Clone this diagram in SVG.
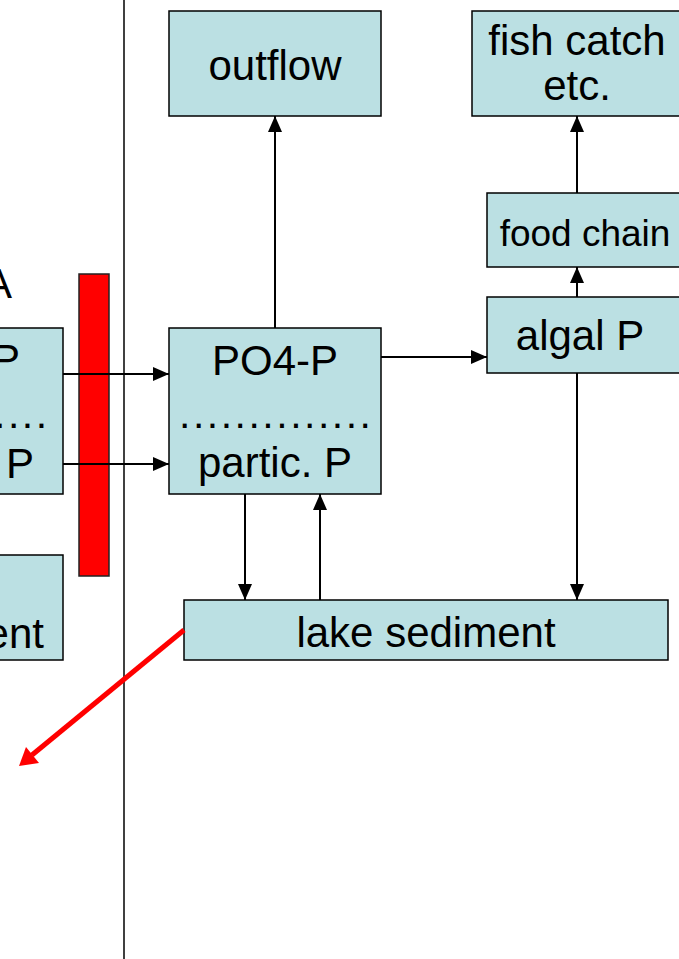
<svg xmlns="http://www.w3.org/2000/svg" width="679" height="959" viewBox="0 0 679 959">
<style>
.box{fill:#BBE0E3;stroke:#000;stroke-width:1.5}
.t{font-family:"Liberation Sans",Arial,sans-serif;font-size:42px;fill:#000;text-anchor:middle}
.te{font-family:"Liberation Sans",Arial,sans-serif;font-size:42px;fill:#000;text-anchor:end}
.dots{font-family:"Liberation Sans",Arial,sans-serif;font-size:41px;fill:#000;letter-spacing:2.5px}
.c{stroke:#000;stroke-width:2;fill:none}
</style>
<defs>
<marker id="ah" viewBox="0 0 16 14" refX="16" refY="7" markerWidth="16" markerHeight="14" markerUnits="userSpaceOnUse" orient="auto">
<path d="M0,0 L16,7 L0,14 Z" fill="#000"/>
</marker>
</defs>
<rect width="679" height="959" fill="#fff"/>
<line x1="124" y1="0" x2="124" y2="959" stroke="#000" stroke-width="1.5"/>

<g id="left-labels">
<text class="te" x="12" y="298">A</text>
</g>
<g id="left-box">
<rect class="box" x="-149" y="328" width="212" height="166"/>
<text class="te" x="20" y="374">P</text>
<text class="dots" x="-6" y="428">....</text>
<text class="te" x="34" y="478">P</text>
</g>
<g id="left-sediment">
<rect class="box" x="-100" y="555" width="163" height="105"/>
<text class="te" x="44" y="648">ent</text>
</g>
<g id="red-bar">
<rect x="79" y="274" width="30" height="302" fill="#FF0000" stroke="#222" stroke-width="1.5"/>
</g>

<g id="outflow">
<rect class="box" x="169" y="11" width="212" height="105"/>
<text class="t" x="275" y="80">outflow</text>
</g>
<g id="fish-catch">
<rect class="box" x="472" y="11" width="215" height="105"/>
<text class="t" x="577" y="55">fish catch</text>
<text class="t" x="577" y="100">etc.</text>
</g>
<g id="food-chain">
<rect class="box" x="487" y="193" width="200" height="74"/>
<text class="t" x="585" y="246" style="font-size:37px">food chain</text>
</g>
<g id="algal-p">
<rect class="box" x="487" y="297" width="200" height="76"/>
<text class="t" x="580" y="350">algal P</text>
</g>
<g id="po4-p">
<rect class="box" x="169" y="328" width="212" height="166"/>
<text class="t" x="275" y="375">PO4-P</text>
<text class="dots" x="179" y="428">..............</text>
<text class="t" x="275" y="477">partic. P</text>
</g>
<g id="lake-sediment">
<rect class="box" x="184" y="600" width="484" height="60"/>
<text class="t" x="426" y="647">lake sediment</text>
</g>

<g id="connectors">
<line class="c" x1="63" y1="374" x2="169" y2="374" marker-end="url(#ah)"/>
<line class="c" x1="63" y1="464" x2="169" y2="464" marker-end="url(#ah)"/>
<line class="c" x1="275" y1="328" x2="275" y2="116" marker-end="url(#ah)"/>
<line class="c" x1="381" y1="357" x2="487" y2="357" marker-end="url(#ah)"/>
<line class="c" x1="577" y1="193" x2="577" y2="116" marker-end="url(#ah)"/>
<line class="c" x1="577" y1="297" x2="577" y2="267" marker-end="url(#ah)"/>
<line class="c" x1="245" y1="494" x2="245" y2="600" marker-end="url(#ah)"/>
<line class="c" x1="320" y1="600" x2="320" y2="494" marker-end="url(#ah)"/>
<line class="c" x1="577" y1="373" x2="577" y2="600" marker-end="url(#ah)"/>
<line x1="184" y1="630" x2="32" y2="755" stroke="#FF0000" stroke-width="5"/>
<path d="M19,766 L26,747 L39,763 Z" fill="#FF0000"/>
</g>
</svg>
